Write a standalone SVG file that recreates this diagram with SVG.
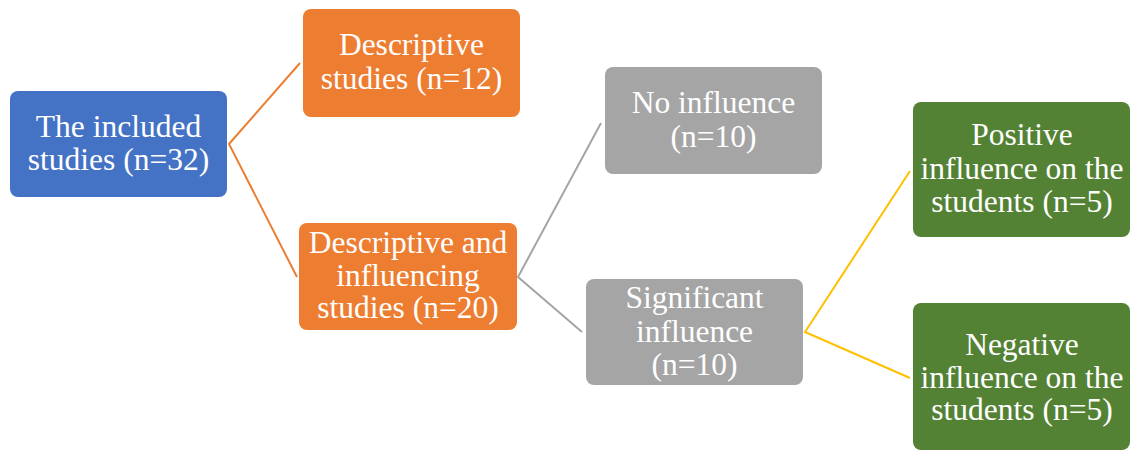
<svg xmlns="http://www.w3.org/2000/svg" width="1130" height="450" viewBox="0 0 1130 450">
  <style>
    .blue { fill: #4472C4; }
    .orange { fill: #ED7D31; }
    .gray { fill: #A5A5A5; }
    .green { fill: #548235; }
    .caption { font-family: "Liberation Serif", "Times New Roman", serif; font-size: 31.5px; fill: #FFFFFF; text-anchor: middle; }
    .link { fill: none; stroke-width: 2; }
  </style>
  <rect width="1130" height="450" fill="#FFFFFF"/>

  <!-- connectors -->
  <g id="connectors">
    <polyline class="link" stroke="#ED7D31" points="300,63 229,144 297,277"/>
    <polyline class="link" stroke="#A5A5A5" points="601,123 518,277 582,332"/>
    <polyline class="link" stroke="#FFC000" points="910,171 805,332 910,378"/>
  </g>

  <g id="included">
    <rect class="blue" x="10" y="91" width="217" height="106" rx="8"/>
    <text class="caption" x="118.5" y="137">The included</text>
    <text class="caption" x="118.5" y="170">studies (n=32)</text>
  </g>

  <g id="descriptive">
    <rect class="orange" x="303" y="9" width="217" height="108" rx="8"/>
    <text class="caption" x="411.5" y="55">Descriptive</text>
    <text class="caption" x="411.5" y="89">studies (n=12)</text>
  </g>

  <g id="descriptive-influencing">
    <rect class="orange" x="299" y="223" width="218" height="107" rx="8"/>
    <text class="caption" x="408" y="253">Descriptive and</text>
    <text class="caption" x="408" y="286">influencing</text>
    <text class="caption" x="408" y="318">studies (n=20)</text>
  </g>

  <g id="no-influence">
    <rect class="gray" x="605" y="67" width="217" height="107" rx="8"/>
    <text class="caption" x="713.5" y="113">No influence</text>
    <text class="caption" x="713.5" y="147">(n=10)</text>
  </g>

  <g id="significant">
    <rect class="gray" x="586" y="279" width="217" height="106" rx="8"/>
    <text class="caption" x="694.5" y="308">Significant</text>
    <text class="caption" x="694.5" y="342">influence</text>
    <text class="caption" x="694.5" y="375">(n=10)</text>
  </g>

  <g id="positive">
    <rect class="green" x="913" y="102" width="217" height="135" rx="8"/>
    <text class="caption" x="1022" y="145">Positive</text>
    <text class="caption" x="1022" y="179">influence on the</text>
    <text class="caption" x="1022" y="212">students (n=5)</text>
  </g>

  <g id="negative">
    <rect class="green" x="913" y="303" width="217" height="147" rx="8"/>
    <text class="caption" x="1022" y="355">Negative</text>
    <text class="caption" x="1022" y="388">influence on the</text>
    <text class="caption" x="1022" y="420">students (n=5)</text>
  </g>
</svg>
